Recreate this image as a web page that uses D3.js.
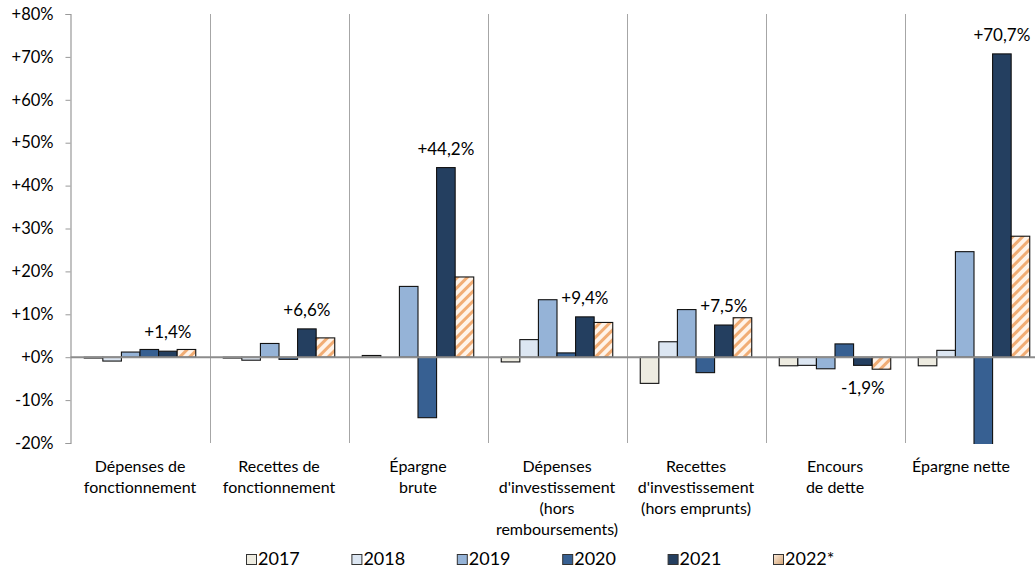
<!DOCTYPE html>
<html>
<head>
<meta charset="utf-8">
<script src="https://cdn.jsdelivr.net/npm/d3@7"></script>
<style>
  html, body { margin: 0; padding: 0; background: #fff; }
  svg { display: block; font-family: Lato, "Open Sans", sans-serif; }
</style>
</head>
<body>
<svg id="chart" width="1035" height="569"></svg>
<script>
// Categories (line breaks mark where each axis label wraps)
const categories = [
  "Dépenses de\nfonctionnement",
  "Recettes de\nfonctionnement",
  "Épargne\nbrute",
  "Dépenses\nd'investissement\n(hors\nremboursements)",
  "Recettes\nd'investissement\n(hors emprunts)",
  "Encours\nde dette",
  "Épargne nette"
];
const years = ["2017", "2018", "2019", "2020", "2021", "2022*"];

// Annual change, in %, per category
const values2017 = [-0.2, -0.2, 0.4, -1.1, -6.1, -2.0, -2.0];
const values2018 = [-0.9, -0.7, 0.0, 4.1, 3.6, -1.9, 1.6];
const values2019 = [1.2, 3.2, 16.5, 13.4, 11.1, -2.7, 24.6];
const values2020 = [1.8, -0.5, -14.1, 1.0, -3.6, 3.1, -20.5];
const values2021 = [1.4, 6.6, 44.2, 9.4, 7.5, -1.9, 70.7];
const values2022 = [1.8, 4.5, 18.7, 8.1, 9.2, -2.8, 28.2];
const seriesValues = [values2017, values2018, values2019, values2020, values2021, values2022];

// Series carrying a value label
const labelledYear = "2021";

const yTicks = [-20, -10, 0, 10, 20, 30, 40, 50, 60, 70, 80];

const fills = ["#EEECE1", "#DCE6F2", "#95B3D7", "#376092", "#243F60", "url(#hatch2022)"];

const svg = d3.select("#chart");
const W = 1035, H = 569;
const plot = { left: 70.5, right: 1043.5, top: 14, bottom: 443 };

const y = d3.scaleLinear().domain([-20, 80]).range([plot.bottom, plot.top]);
const x = d3.scaleBand().domain(categories).range([plot.left, plot.right]).padding(0);
const xi = d3.scaleBand().domain(years).range([0, x.bandwidth()]).paddingInner(0).paddingOuter(0.74);

// Patterns and gradients
const defs = svg.append("defs");
const hatch = defs.append("pattern")
  .attr("id", "hatch2022")
  .attr("patternUnits", "userSpaceOnUse")
  .attr("width", 7).attr("height", 7)
  .attr("patternTransform", "rotate(45)");
hatch.append("rect").attr("width", 7).attr("height", 7).attr("fill", "#FFF4EA");
hatch.append("rect").attr("x", 0).attr("y", 0).attr("width", 3).attr("height", 7)
  .attr("fill", "#EE9B57").attr("opacity", 0.8);

const grad = defs.append("linearGradient")
  .attr("id", "swatch2022").attr("x1", 0).attr("y1", 0).attr("x2", 1).attr("y2", 1);
grad.append("stop").attr("offset", "0%").attr("stop-color", "#FBEBDB");
grad.append("stop").attr("offset", "100%").attr("stop-color", "#D3A273");

defs.append("clipPath").attr("id", "plotClip")
  .append("rect")
  .attr("x", plot.left).attr("y", plot.top)
  .attr("width", plot.right - plot.left).attr("height", plot.bottom - plot.top + 1);

// Vertical separators between categories
svg.append("g")
  .selectAll("line")
  .data(categories.slice(1))
  .join("line")
  .attr("x1", d => Math.round(x(d)) + 0.5)
  .attr("x2", d => Math.round(x(d)) + 0.5)
  .attr("y1", plot.top)
  .attr("y2", plot.bottom)
  .attr("stroke", "#A6A6A6")
  .attr("stroke-width", 1);

// Y axis
const yAxis = d3.axisLeft(y)
  .tickValues(yTicks)
  .tickSize(5)
  .tickPadding(12)
  .tickFormat(d => (d >= 0 ? "+" : "") + d + "%");

const gy = svg.append("g")
  .attr("transform", `translate(${plot.left},0)`)
  .call(yAxis);
gy.select(".domain").attr("stroke", "#999999").attr("stroke-width", 1.2);
gy.selectAll(".tick line").attr("stroke", "#999999");
gy.selectAll(".tick text")
  .attr("fill", "#000")
  .style("font-size", "16.5px")
  .style("font-family", "Lato, sans-serif");

// Bars
const rows = [];
categories.forEach((c, ci) => {
  years.forEach((yr, si) => {
    rows.push({ category: c, year: yr, si, value: seriesValues[si][ci] });
  });
});

svg.append("g")
  .attr("clip-path", "url(#plotClip)")
  .selectAll("rect")
  .data(rows)
  .join("rect")
  .attr("x", d => x(d.category) + xi(d.year))
  .attr("y", d => y(Math.max(0, d.value)))
  .attr("width", xi.bandwidth())
  .attr("height", d => Math.abs(y(d.value) - y(0)))
  .attr("fill", d => fills[d.si])
  .attr("stroke", "#111")
  .attr("stroke-width", 1.1);

// Zero line
svg.append("line")
  .attr("x1", plot.left).attr("x2", W)
  .attr("y1", y(0)).attr("y2", y(0))
  .attr("stroke", "#8C8C8C")
  .attr("stroke-width", 2);

// Value labels on the labelled series
const fmt = v => (v >= 0 ? "+" : "-") + d3.format(".1f")(Math.abs(v)).replace(".", ",") + "%";
const li = years.indexOf(labelledYear);
svg.append("g")
  .selectAll("text")
  .data(categories.map((c, ci) => ({ category: c, value: seriesValues[li][ci] })))
  .join("text")
  .attr("x", d => x(d.category) + xi(labelledYear) + xi.bandwidth() / 2)
  .attr("y", d => d.value >= 0 ? y(d.value) - 13 : y(d.value) + 29)
  .attr("text-anchor", "middle")
  .style("font-size", "17px")
  .attr("fill", "#000")
  .text(d => fmt(d.value));

// Category labels
const lineH = 21;
const catG = svg.append("g");
categories.forEach(c => {
  const lines = c.split("\n");
  const t = catG.append("text")
    .attr("text-anchor", "middle")
    .style("font-size", "16px")
    .attr("fill", "#000");
  lines.forEach((ln, i) => {
    t.append("tspan").attr("x", 0).attr("y", 472 + i * lineH).text(ln);
  });
  // keep the label inside the drawing width
  const w = t.node().getBBox().width;
  let cx = x(c) + x.bandwidth() / 2;
  cx = Math.min(cx, W - 25 - w / 2);
  t.attr("transform", `translate(${cx},0)`);
});

// Legend
const legend = svg.append("g").attr("transform", "translate(246,554)");
years.forEach((yr, i) => {
  const g = legend.append("g").attr("transform", `translate(${i * 105.4},0)`);
  g.append("rect")
    .attr("x", 0.5).attr("y", 0.5)
    .attr("width", 10).attr("height", 10)
    .attr("fill", i === 5 ? "url(#swatch2022)" : fills[i])
    .attr("stroke", "#333")
    .attr("stroke-width", 1);
  g.append("text")
    .attr("x", 12).attr("y", 11)
    .style("font-size", "18px")
    .attr("fill", "#000")
    .text(yr);
});
</script>
</body>
</html>
